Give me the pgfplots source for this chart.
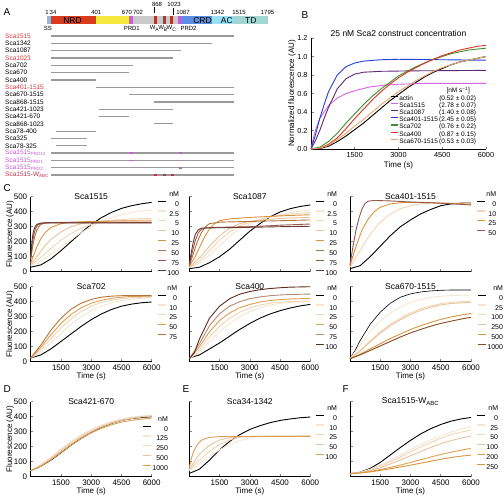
\documentclass[border=0pt]{standalone}
\usepackage{fontspec}
\setmainfont{Liberation Sans}
\usepackage{pgfplots}
\pgfplotsset{compat=1.18}
\definecolor{nrd}{HTML}{DA3A1E}
\definecolor{ss}{HTML}{9FB3D6}
\definecolor{ylw}{HTML}{F6E83E}
\definecolor{prd}{HTML}{C65CD8}
\definecolor{midg}{HTML}{C9C9C9}
\definecolor{wdom}{HTML}{B4352C}
\definecolor{crd}{HTML}{5C8FE4}
\definecolor{acd}{HTML}{98E0F2}
\definecolor{tdd}{HTML}{A2D6D2}
\definecolor{cline}{HTML}{9A9A9A}
\definecolor{redlab}{HTML}{D83A3A}
\definecolor{maglab}{HTML}{CC55DD}
\definecolor{wlab}{HTML}{C03048}
\definecolor{bmag}{HTML}{D464E2}
\definecolor{bpur}{HTML}{5E2A72}
\definecolor{bblue}{HTML}{2340D8}
\definecolor{bgreen}{HTML}{3E8E2E}
\definecolor{bred}{HTML}{E2321E}
\definecolor{bora}{HTML}{E9A66C}
\definecolor{q1}{HTML}{F6E5D2}
\definecolor{q2}{HTML}{F1D5B6}
\definecolor{q3}{HTML}{EAC39C}
\definecolor{q4}{HTML}{D8943F}
\definecolor{q5}{HTML}{B5743B}
\definecolor{q6}{HTML}{95584A}
\definecolor{q7}{HTML}{6C3636}
\definecolor{q8}{HTML}{5C2D1E}
\definecolor{q9}{HTML}{B38A72}
\definecolor{q10}{HTML}{DCA055}
\definecolor{q11}{HTML}{8A4A22}
\pgfplotsset{
  kin/.style={scale only axis, width=121pt, height=75pt,
    xmin=0, xmax=6000, ymin=0, ymax=500, clip=false,
    axis lines*=left, tick align=inside, major tick length=2.5pt,
    axis line style={line width=0.5pt}, tick style={line width=0.5pt},
    xtick={1500,3000,4500,6000}, xticklabels={1500,3000,4500,6000},
    ytick={0,100,...,500},
    tick label style={font=\fontsize{8}{8}\selectfont},
    /pgf/number format/assume math mode=true,
    every axis title shift=0pt,
    title style={font=\fontsize{8.5}{8.5}\selectfont, at={(axis description cs:0.5,1)}, anchor=center},
    xlabel style={font=\fontsize{8}{8}\selectfont, at={(axis description cs:0.5,0)}, anchor=center, yshift=-14.5pt},
    ylabel style={font=\fontsize{8}{8}\selectfont, at={(axis description cs:-0.171,0.5)}, anchor=center},
    every axis plot/.append style={line width=0.9pt},
  },
  clegend/.style={legend style={at={#1}, anchor=north west, draw=none, fill=none,
      font=\fontsize{7}{7}\selectfont, row sep=3.1pt, column sep=0.5pt,
      nodes={inner sep=0.6pt, text height=5.2pt, text depth=0.4pt}},
    legend cell align=right,
    legend image code/.code={\draw[##1, line width=1.1pt] (0pt,2.6pt) -- (8pt,2.6pt);}},
}
\begin{document}
\begin{tikzpicture}
\useasboundingbox (0pt,0pt) rectangle (504pt,-499pt);
% panel letters
\node[font=\fontsize{10}{10}\selectfont, anchor=west] at (0pt,-12pt) {A};
\node[font=\fontsize{10}{10}\selectfont, anchor=west] at (298pt,-15pt) {B};
\node[font=\fontsize{10}{10}\selectfont, anchor=west] at (0pt,-188pt) {C};
\node[font=\fontsize{10}{10}\selectfont, anchor=west] at (0pt,-389pt) {D};
\node[font=\fontsize{10}{10}\selectfont, anchor=west] at (179pt,-389pt) {E};
\node[font=\fontsize{10}{10}\selectfont, anchor=west] at (339pt,-389pt) {F};
\node[rotate=90, font=\fontsize{8}{8}\selectfont, anchor=center, inner sep=0pt] at (292pt,-93.5pt) {Normalized fluorescence (AU)};

% ================= Panel A =================
\begin{axis}[at={(47pt,0pt)}, anchor=north west, scale only axis, width=221pt, height=180pt,
  xmin=1, xmax=1795, ymin=0, ymax=180, y dir=reverse, hide axis, clip=false]
\addplot[fill=ss, draw=none] coordinates {(1,16)(34,16)(34,24)(1,24)} -- cycle;
\addplot[fill=nrd, draw=none] coordinates {(34,16)(401,16)(401,24)(34,24)} -- cycle;
\addplot[fill=ylw, draw=none] coordinates {(401,16)(670,16)(670,24)(401,24)} -- cycle;
\addplot[fill=prd, draw=none] coordinates {(670,16)(702,16)(702,24)(670,24)} -- cycle;
\addplot[fill=midg, draw=none] coordinates {(702,16)(1067,16)(1067,24)(702,24)} -- cycle;
\addplot[fill=wdom, draw=none] coordinates {(868,16)(893,16)(893,24)(868,24)} -- cycle;
\addplot[fill=wdom, draw=none] coordinates {(940,16)(965,16)(965,24)(940,24)} -- cycle;
\addplot[fill=wdom, draw=none] coordinates {(1000,16)(1023,16)(1023,24)(1000,24)} -- cycle;
\addplot[fill=prd, draw=none] coordinates {(1067,16)(1087,16)(1087,24)(1067,24)} -- cycle;
\addplot[fill=crd, draw=none] coordinates {(1087,16)(1342,16)(1342,24)(1087,24)} -- cycle;
\addplot[fill=acd, draw=none] coordinates {(1342,16)(1515,16)(1515,24)(1342,24)} -- cycle;
\addplot[fill=tdd, draw=none] coordinates {(1515,16)(1795,16)(1795,24)(1515,24)} -- cycle;
\node[font=\fontsize{8.5}{8.5}\selectfont] at (axis cs:208,20.2) {NRD};
\node[font=\fontsize{8.5}{8.5}\selectfont] at (axis cs:1263,20.2) {CRD};
\node[font=\fontsize{8.5}{8.5}\selectfont] at (axis cs:1461,20.2) {AC};
\node[font=\fontsize{8.5}{8.5}\selectfont] at (axis cs:1656,20.2) {TD};
\begin{scope}[every node/.style={font=\fontsize{6}{6}\selectfont, inner sep=0pt}]
\node at (axis cs:1,12) {1};
\node at (axis cs:50,12) {34};
\node at (axis cs:401,12) {401};
\node at (axis cs:650,12) {670};
\node at (axis cs:740,12) {702};
\node at (axis cs:894,4) {868};
\node at (axis cs:1032,4) {1023};
\node at (axis cs:1105,12) {1087};
\node at (axis cs:1385,12) {1342};
\node at (axis cs:1560,12) {1515};
\node at (axis cs:1791,12.7) {1795};
\node at (axis cs:9,28.5) {SS};
\node at (axis cs:689,28.5) {PRD1};
\node at (axis cs:874,28.5) {W\textsubscript{A}};
\node at (axis cs:943,28.5) {W\textsubscript{B}};
\node at (axis cs:1012,28.5) {W\textsubscript{C}};
\node at (axis cs:1150,28.5) {PRD2};
\end{scope}
\addplot[black, line width=0.4pt] coordinates {(868,7)(868,13)};
\addplot[black, line width=0.4pt] coordinates {(1023,8)(1023,15)};
% construct lines
\addplot[cline, line width=1.3pt] coordinates {(34,36.0)(1515,36.0)};
\addplot[cline, line width=1.3pt] coordinates {(34,43.3)(1342,43.3)};
\addplot[cline, line width=1.3pt] coordinates {(34,50.6)(1087,50.6)};
\addplot[cline, line width=1.3pt] coordinates {(34,58.0)(1023,58.0)};
\addplot[cline, line width=1.3pt] coordinates {(34,65.3)(702,65.3)};
\addplot[cline, line width=1.3pt] coordinates {(34,72.6)(670,72.6)};
\addplot[cline, line width=1.3pt] coordinates {(34,79.9)(400,79.9)};
\addplot[cline, line width=1.3pt] coordinates {(401,87.2)(1515,87.2)};
\addplot[cline, line width=1.3pt] coordinates {(670,94.6)(1515,94.6)};
\addplot[cline, line width=1.3pt] coordinates {(868,101.9)(1515,101.9)};
\addplot[cline, line width=1.3pt] coordinates {(421,109.2)(1023,109.2)};
\addplot[cline, line width=1.3pt] coordinates {(421,116.5)(670,116.5)};
\addplot[cline, line width=1.3pt] coordinates {(868,123.8)(1023,123.8)};
\addplot[cline, line width=1.3pt] coordinates {(78,131.2)(400,131.2)};
\addplot[cline, line width=1.3pt] coordinates {(34,138.5)(325,138.5)};
\addplot[cline, line width=1.3pt] coordinates {(78,145.8)(325,145.8)};
\addplot[cline, line width=1.3pt] coordinates {(34,153.1)(1515,153.1)};
\addplot[cline, line width=1.3pt] coordinates {(34,160.4)(1515,160.4)};
\addplot[cline, line width=1.3pt] coordinates {(34,167.8)(1515,167.8)};
\addplot[cline, line width=1.3pt] coordinates {(34,175.1)(1515,175.1)};
% mutation marks
\addplot[maglab, line width=1.6pt] coordinates {(676,153.1)(700,153.1)};
\addplot[maglab, line width=1.6pt] coordinates {(1070,153.1)(1094,153.1)};
\addplot[maglab, line width=1.6pt] coordinates {(676,160.4)(700,160.4)};
\addplot[maglab, line width=1.6pt] coordinates {(1070,167.8)(1094,167.8)};
\addplot[wlab, line width=1.6pt] coordinates {(868,175.1)(892,175.1)};
\addplot[wlab, line width=1.6pt] coordinates {(943,175.1)(967,175.1)};
\addplot[wlab, line width=1.6pt] coordinates {(1008,175.1)(1032,175.1)};
% construct names
\begin{scope}[every node/.style={font=\fontsize{6.5}{6.5}\selectfont, anchor=west, inner sep=0pt}]
\node[text=redlab] at (axis cs:-340,36.0) {Sca1515};
\node at (axis cs:-340,43.3) {Sca1342};
\node at (axis cs:-340,50.6) {Sca1087};
\node[text=redlab] at (axis cs:-340,58.0) {Sca1023};
\node at (axis cs:-340,65.3) {Sca702};
\node at (axis cs:-340,72.6) {Sca670};
\node at (axis cs:-340,79.9) {Sca400};
\node[text=redlab] at (axis cs:-340,87.2) {Sca401-1515};
\node at (axis cs:-340,94.6) {Sca670-1515};
\node at (axis cs:-340,101.9) {Sca868-1515};
\node at (axis cs:-340,109.2) {Sca421-1023};
\node at (axis cs:-340,116.5) {Sca421-670};
\node at (axis cs:-340,123.8) {Sca868-1023};
\node at (axis cs:-340,131.2) {Sca78-400};
\node at (axis cs:-340,138.5) {Sca325};
\node at (axis cs:-340,145.8) {Sca78-325};
\node[text=maglab] at (axis cs:-340,153.1) {Sca1515\textsubscript{PRD12}};
\node[text=maglab] at (axis cs:-340,160.4) {Sca1515\textsubscript{PRD1}};
\node[text=maglab] at (axis cs:-340,167.8) {Sca1515\textsubscript{PRD2}};
\node[text=wlab] at (axis cs:-340,175.1) {Sca1515-W\textsubscript{ABC}};
\end{scope}
\end{axis}

% ================= Panel B =================
\begin{axis}[kin, at={(311pt,-38pt)}, anchor=north west, width=175pt, height=111pt,
  ymin=0, ymax=1.2, ytick={0,0.2,...,1.2},
  tick label style={font=\fontsize{7.3}{7.3}\selectfont},
  yticklabels={0.0,0.2,0.4,0.6,0.8,1.0,1.2},
  title={25 nM Sca2 construct concentration}, title style={yshift=5pt},
  xlabel={Time (s)},
  xlabel style={yshift=-1.5pt},
  legend style={at={(axis description cs:0.434,0.573)}, anchor=north west, draw=none, fill=none,
    font=\fontsize{6.5}{6.5}\selectfont, row sep=0pt, column sep=0.5pt,
    nodes={inner sep=0.5pt, text height=4.8pt, text depth=1.4pt}},
  legend cell align=left,
  legend image code/.code={\draw[#1, line width=1.1pt] (0pt,2.2pt) -- (7pt,2.2pt);}]
\addlegendimage{empty legend}\addlegendentry{\makebox[40pt][l]{}\makebox[38pt][c]{[nM s\textsuperscript{−1}]}}
\addplot[black] coordinates {(0,0)(300,0.005)(600,0.03)(900,0.08)(1200,0.14)(1500,0.21)(1800,0.28)(2100,0.36)(2400,0.44)(2700,0.52)(3000,0.59)(3300,0.66)(3600,0.72)(3900,0.78)(4200,0.83)(4500,0.87)(4800,0.91)(5100,0.94)(5400,0.96)(5700,0.98)(6000,1.0)};
\addlegendentry{\makebox[40pt][l]{actin}(0.52 ± 0.02)}
\addplot[bmag] coordinates {(0,0)(75,0.11)(150,0.2)(300,0.33)(600,0.47)(900,0.55)(1200,0.6)(1500,0.63)(2000,0.67)(2500,0.69)(3000,0.70)(4000,0.71)(5000,0.71)(6000,0.71)};
\addlegendentry{\makebox[40pt][l]{Sca1515}(2.78 ± 0.07)}
\addplot[bpur] coordinates {(0,0)(150,0.09)(300,0.2)(450,0.33)(600,0.45)(900,0.65)(1200,0.76)(1500,0.81)(1800,0.83)(2400,0.84)(3500,0.845)(6000,0.85)};
\addlegendentry{\makebox[40pt][l]{Sca1087}(1.40 ± 0.08)}
\addplot[bblue] coordinates {(0,0)(150,0.15)(300,0.33)(450,0.48)(600,0.62)(900,0.80)(1200,0.89)(1500,0.93)(1800,0.95)(2400,0.965)(3000,0.97)(4500,0.965)(6000,0.96)};
\addlegendentry{\makebox[40pt][l]{Sca401-1515}(2.45 ± 0.05)}
\addplot[bgreen] coordinates {(0,0)(300,0.02)(600,0.08)(900,0.17)(1200,0.28)(1500,0.38)(1800,0.48)(2100,0.57)(2400,0.65)(2700,0.72)(3000,0.79)(3300,0.84)(3600,0.89)(3900,0.93)(4200,0.97)(4500,1.0)(4800,1.03)(5100,1.05)(5400,1.07)(5700,1.08)(6000,1.09)};
\addlegendentry{\makebox[40pt][l]{Sca702}(0.76 ± 0.22)}
\addplot[bred] coordinates {(0,0)(300,0.01)(600,0.05)(900,0.12)(1200,0.22)(1500,0.33)(1800,0.43)(2100,0.53)(2400,0.62)(2700,0.70)(3000,0.77)(3300,0.83)(3600,0.88)(3900,0.93)(4200,0.97)(4500,1.01)(4800,1.04)(5100,1.07)(5400,1.09)(5700,1.11)(6000,1.12)};
\addlegendentry{\makebox[40pt][l]{Sca400}(0.87 ± 0.15)}
\addplot[bora] coordinates {(0,0)(300,0.01)(600,0.04)(900,0.1)(1200,0.17)(1500,0.25)(1800,0.32)(2100,0.40)(2400,0.48)(2700,0.55)(3000,0.62)(3300,0.68)(3600,0.74)(3900,0.79)(4200,0.84)(4500,0.88)(4800,0.91)(5100,0.94)(5400,0.96)(5700,0.98)(6000,1.0)};
\addlegendentry{\makebox[40pt][l]{Sca670-1515}(0.53 ± 0.03)}
\end{axis}

% ================= Panel C row 1 =================
\begin{axis}[kin, at={(30.7pt,-196.7pt)}, anchor=north west, xticklabels={},
  title={Sca1515}, ylabel={Fluorescence (AU)}, clegend={(axis description cs:1.019,1.113)}]
\addlegendimage{empty legend}\addlegendentry{nM}
\addplot[black] coordinates {(0,30)(500,45)(1000,85)(1500,140)(2000,200)(2500,260)(3000,315)(3500,360)(4000,395)(4500,422)(5000,440)(5500,453)(6000,462)};\addlegendentry{0}
\addplot[q1] coordinates {(0,40)(500,70)(1000,115)(1500,165)(2000,215)(2500,260)(3000,300)(3500,335)(4000,360)(4500,380)(5000,395)(5500,405)(6000,412)};\addlegendentry{2.5}
\addplot[q2] coordinates {(0,45)(500,95)(1000,155)(1500,210)(2000,255)(2500,290)(3000,315)(3500,332)(4000,342)(4500,348)(5000,352)(5500,354)(6000,356)};\addlegendentry{5}
\addplot[q3] coordinates {(0,50)(250,90)(500,135)(750,180)(1000,215)(1500,265)(2000,300)(2500,320)(3000,330)(4000,338)(5000,342)(6000,344)};\addlegendentry{10}
\addplot[q4] coordinates {(0,60)(150,110)(300,165)(500,220)(750,265)(1000,295)(1500,320)(2000,330)(3000,335)(4000,338)(6000,338)};\addlegendentry{25}
\addplot[q5] coordinates {(0,80)(100,170)(200,235)(300,275)(400,300)(500,315)(750,325)(1000,328)(2000,330)(6000,330)};\addlegendentry{50}
\addplot[q6] coordinates {(0,90)(80,190)(160,250)(250,290)(350,312)(500,322)(750,326)(6000,327)};\addlegendentry{75}
\addplot[q7] coordinates {(0,95)(60,200)(120,260)(200,295)(300,315)(450,323)(700,326)(6000,325)};\addlegendentry{100}
\end{axis}

\begin{axis}[kin, at={(189.3pt,-196.7pt)}, anchor=north west, xticklabels={}, yticklabels={},
  title={Sca1087}, clegend={(axis description cs:1.014,1.113)}]
\addlegendimage{empty legend}\addlegendentry{nM}
\addplot[black] coordinates {(0,20)(500,30)(1000,60)(1500,100)(2000,150)(2500,210)(3000,270)(3500,320)(4000,365)(4500,398)(5000,420)(5500,435)(6000,445)};\addlegendentry{0}
\addplot[q1] coordinates {(0,25)(500,55)(1000,110)(1500,175)(2000,235)(2500,285)(3000,320)(4000,365)(5000,395)(6000,412)};\addlegendentry{2.5}
\addplot[q2] coordinates {(0,28)(500,70)(1000,140)(1500,210)(2000,265)(2500,305)(3000,330)(4000,365)(5000,385)(6000,395)};\addlegendentry{5}
\addplot[q3] coordinates {(0,30)(500,90)(1000,170)(1500,240)(2000,290)(2500,320)(3000,335)(4000,350)(5000,358)(6000,362)};\addlegendentry{10}
\addplot[q4] coordinates {(0,35)(250,90)(500,160)(750,230)(1000,285)(1250,320)(1500,340)(2000,352)(3000,362)(4500,372)(6000,380)};\addlegendentry{25}
\addplot[q5] coordinates {(0,40)(200,120)(400,200)(600,260)(800,300)(1000,320)(1500,330)(2000,332)(3000,335)(4500,340)(6000,345)};\addlegendentry{50}
\addplot[q6] coordinates {(0,45)(150,130)(300,210)(450,260)(600,283)(800,292)(1200,295)(3000,300)(4500,310)(6000,318)};\addlegendentry{75}
\addplot[q7] coordinates {(0,50)(100,130)(200,200)(300,250)(450,280)(600,290)(800,292)(1500,293)(3000,296)(4500,300)(6000,303)};\addlegendentry{100}
\end{axis}

\begin{axis}[kin, at={(350pt,-196.7pt)}, anchor=north west, xticklabels={}, yticklabels={},
  title={Sca401-1515}, clegend={(axis description cs:1.017,1.113)}]
\addlegendimage{empty legend}\addlegendentry{nM}
\addplot[black] coordinates {(0,20)(500,40)(1000,100)(1500,170)(2000,240)(2500,300)(3000,345)(3500,385)(4000,415)(4500,440)(5000,452)(5500,457)(6000,458)};\addlegendentry{0}
\addplot[q2] coordinates {(0,30)(500,140)(1000,250)(1500,330)(2000,385)(2500,420)(3000,440)(3500,452)(4000,457)(5000,458)(6000,455)};\addlegendentry{10}
\addplot[q4] coordinates {(0,40)(300,170)(600,280)(900,350)(1200,400)(1500,430)(2000,452)(2500,460)(3000,462)(4000,460)(5000,455)(6000,450)};\addlegendentry{25}
\addplot[q6] coordinates {(0,45)(150,170)(300,280)(450,360)(600,420)(750,455)(900,470)(1200,475)(2000,472)(3000,465)(4000,460)(5000,453)(6000,445)};\addlegendentry{50}
\end{axis}

% ================= Panel C row 2 =================
\begin{axis}[kin, at={(30.7pt,-286.7pt)}, anchor=north west,
  title={Sca702}, ylabel={Fluorescence (AU)}, xlabel={Time (s)}, clegend={(axis description cs:1.019,1.06)}]
\addlegendimage{empty legend}\addlegendentry{nM}
\addplot[black] coordinates {(0,25)(500,45)(1000,85)(1500,135)(2000,185)(2500,235)(3000,280)(3500,318)(4000,348)(4500,370)(5000,384)(5500,393)(6000,398)};\addlegendentry{0}
\addplot[q1] coordinates {(0,25)(500,65)(1000,125)(1500,190)(2000,250)(2500,300)(3000,340)(3500,370)(4000,392)(4500,407)(5000,417)(6000,428)};\addlegendentry{10}
\addplot[q2] coordinates {(0,25)(500,80)(1000,155)(1500,225)(2000,285)(2500,335)(3000,370)(3500,395)(4000,410)(4500,420)(5000,427)(6000,432)};\addlegendentry{25}
\addplot[q10] coordinates {(0,25)(500,95)(1000,180)(1500,255)(2000,315)(2500,360)(3000,390)(3500,410)(4000,422)(4500,430)(5000,435)(6000,437)};\addlegendentry{50}
\addplot[q5] coordinates {(0,25)(500,110)(1000,210)(1500,290)(2000,350)(2500,390)(3000,415)(3500,430)(4000,437)(4500,440)(5000,441)(6000,440)};\addlegendentry{75}
\end{axis}

\begin{axis}[kin, at={(189.3pt,-286.7pt)}, anchor=north west, yticklabels={},
  title={Sca400}, xlabel={Time (s)}, clegend={(axis description cs:1.014,1.06)}]
\addlegendimage{empty legend}\addlegendentry{nM}
\addplot[black] coordinates {(0,25)(500,45)(1000,85)(1500,125)(2000,170)(2500,215)(3000,255)(3500,290)(4000,318)(4500,340)(5000,358)(5500,372)(6000,382)};\addlegendentry{0}
\addplot[q1] coordinates {(0,20)(500,65)(1000,135)(1500,200)(2000,255)(2500,300)(3000,335)(3500,360)(4000,378)(4500,388)(5000,395)(6000,400)};\addlegendentry{10}
\addplot[q2] coordinates {(0,20)(500,80)(1000,165)(1500,235)(2000,290)(2500,330)(3000,358)(3500,378)(4000,390)(4500,397)(5000,401)(6000,405)};\addlegendentry{25}
\addplot[q10] coordinates {(0,20)(500,100)(1000,200)(1500,275)(2000,325)(2500,360)(3000,382)(3500,398)(4000,408)(4500,414)(5000,418)(6000,422)};\addlegendentry{50}
\addplot[q9] coordinates {(0,20)(500,120)(1000,240)(1500,320)(2000,370)(2500,400)(3000,420)(3500,432)(4000,440)(4500,445)(5000,448)(6000,451)};\addlegendentry{75}
\addplot[q8] coordinates {(0,20)(250,60)(500,150)(1000,290)(1500,370)(2000,420)(2500,450)(3000,468)(3500,480)(4000,488)(4500,493)(5000,497)(6000,500)};\addlegendentry{100}
\end{axis}

\begin{axis}[kin, at={(350pt,-286.7pt)}, anchor=north west, yticklabels={},
  title={Sca670-1515}, xlabel={Time (s)}, clegend={(axis description cs:1.025,1.06)}]
\addlegendimage{empty legend}\addlegendentry{nM}
\addplot[black, line width=0.6pt] coordinates {(0,20)(250,75)(500,140)(750,195)(1000,250)(1500,330)(2000,390)(2500,430)(3000,452)(3500,465)(4000,472)(4500,476)(5000,478)(6000,478)};\addlegendentry{0}
\addplot[q1] coordinates {(0,20)(500,110)(1000,200)(1500,270)(2000,325)(2500,365)(3000,395)(3500,415)(4000,428)(4500,436)(5000,441)(6000,445)};\addlegendentry{25}
\addplot[q2] coordinates {(0,20)(500,75)(1000,140)(1500,200)(2000,250)(2500,290)(3000,325)(3500,352)(4000,372)(4500,387)(5000,396)(6000,404)};\addlegendentry{100}
\addplot[q3] coordinates {(0,20)(500,70)(1000,132)(1500,190)(2000,240)(2500,280)(3000,315)(3500,342)(4000,363)(4500,378)(5000,388)(6000,396)};\addlegendentry{250}
\addplot[q4] coordinates {(0,20)(500,50)(1000,85)(1500,120)(2000,155)(2500,185)(3000,215)(3500,240)(4000,262)(4500,282)(5000,298)(5500,311)(6000,322)};\addlegendentry{500}
\addplot[q11] coordinates {(0,20)(500,45)(1000,75)(1500,105)(2000,135)(2500,165)(3000,192)(3500,215)(4000,237)(4500,255)(5000,270)(5500,284)(6000,296)};\addlegendentry{1000}
\end{axis}

% ================= Panel D =================
\begin{axis}[kin, at={(30.7pt,-401.7pt)}, anchor=north west,
  title={Sca421-670}, ylabel={Fluorescence (AU)}, xlabel={Time (s)}, clegend={(axis description cs:0.895,0.847)}]
\addlegendimage{empty legend}\addlegendentry{nM}
\addplot[black] coordinates {(0,40)(500,70)(1000,110)(1500,160)(2000,210)(2500,255)(3000,295)(3500,330)(4000,355)(4500,375)(5000,388)(5500,395)(6000,400)};\addlegendentry{0}
\addplot[q1] coordinates {(0,40)(500,80)(1000,130)(1500,185)(2000,235)(2500,280)(3000,315)(3500,345)(4000,368)(4500,385)(5000,397)(5500,405)(6000,410)};\addlegendentry{125}
\addplot[q2] coordinates {(0,40)(500,78)(1000,125)(1500,178)(2000,228)(2500,272)(3000,308)(3500,338)(4000,362)(4500,380)(5000,393)(5500,402)(6000,408)};\addlegendentry{250}
\addplot[q3] coordinates {(0,40)(500,74)(1000,118)(1500,170)(2000,220)(2500,264)(3000,300)(3500,332)(4000,356)(4500,375)(5000,388)(5500,398)(6000,404)};\addlegendentry{500}
\addplot[q10] coordinates {(0,40)(500,70)(1000,112)(1500,162)(2000,210)(2500,255)(3000,292)(3500,322)(4000,346)(4500,364)(5000,376)(5500,384)(6000,390)};\addlegendentry{1000}
\end{axis}

% ================= Panel E =================
\begin{axis}[kin, at={(189.3pt,-401.7pt)}, anchor=north west, yticklabels={},
  title={Sca34-1342}, xlabel={Time (s)}, clegend={(axis description cs:1.014,0.993)}]
\addlegendimage{empty legend}\addlegendentry{nM}
\addplot[black] coordinates {(0,22)(500,50)(1000,110)(1500,180)(2000,235)(2500,280)(3000,315)(3500,340)(4000,360)(4500,375)(5000,385)(5500,393)(6000,398)};\addlegendentry{0}
\addplot[q1] coordinates {(0,40)(500,85)(1000,135)(1500,180)(2000,215)(2500,240)(3000,258)(3500,268)(4000,272)(6000,274)};\addlegendentry{10}
\addplot[q2] coordinates {(0,45)(500,110)(1000,170)(1500,215)(2000,245)(2500,262)(3000,270)(6000,272)};\addlegendentry{25}
\addplot[q3] coordinates {(0,50)(250,100)(500,150)(1000,210)(1500,245)(2000,260)(2500,266)(3000,268)(6000,270)};\addlegendentry{50}
\addplot[q10] coordinates {(0,60)(100,120)(200,165)(400,215)(600,242)(800,255)(1000,262)(1500,267)(2000,268)(6000,268)};\addlegendentry{100}
\end{axis}

% ================= Panel F =================
\begin{axis}[kin, at={(350pt,-401.7pt)}, anchor=north west, yticklabels={},
  title={Sca1515-W\textsubscript{ABC}}, xlabel={Time (s)}, clegend={(axis description cs:1.017,0.993)}]
\addlegendimage{empty legend}\addlegendentry{nM}
\addplot[black] coordinates {(0,20)(500,30)(1000,55)(1500,95)(2000,145)(2500,195)(3000,242)(3500,285)(4000,320)(4500,348)(5000,370)(5500,385)(6000,395)};\addlegendentry{0}
\addplot[q1] coordinates {(0,20)(500,30)(1000,50)(1500,78)(2000,110)(2500,145)(3000,180)(3500,213)(4000,245)(4500,273)(5000,298)(5500,318)(6000,335)};\addlegendentry{25}
\addplot[q2] coordinates {(0,20)(500,28)(1000,45)(1500,70)(2000,100)(2500,132)(3000,165)(3500,198)(4000,228)(4500,256)(5000,280)(5500,297)(6000,311)};\addlegendentry{50}
\addplot[q3] coordinates {(0,20)(500,27)(1000,40)(1500,60)(2000,85)(2500,112)(3000,140)(3500,168)(4000,195)(4500,220)(5000,240)(5500,257)(6000,271)};\addlegendentry{100}
\addplot[q10] coordinates {(0,20)(500,25)(1000,35)(1500,48)(2000,62)(2500,78)(3000,95)(3500,113)(4000,131)(4500,148)(5000,163)(5500,177)(6000,189)};\addlegendentry{200}
\addplot[q4] coordinates {(0,20)(500,25)(1000,32)(1500,42)(2000,53)(2500,65)(3000,77)(3500,90)(4000,103)(4500,116)(5000,128)(5500,137)(6000,144)};\addlegendentry{250}
\end{axis}
\end{tikzpicture}
\end{document}
